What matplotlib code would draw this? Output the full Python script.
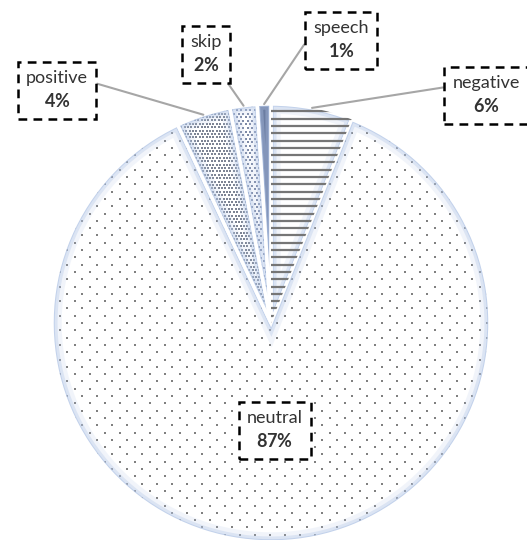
import matplotlib.pyplot as plt
from matplotlib.patches import Wedge
import numpy as np

# -----------------------------
# data
# -----------------------------
labels = ["negative", "neutral", "positive", "skip", "speech"]
shares = [6, 87, 4, 2, 1]

# fill texture per slice: (kind, x step, y step, colour, mark size)
textures = {
    "negative": ("lines", None, 7.3, "#767676", 1.6),
    "neutral": ("dots", 15.0, 7.3, "#808080", 3.0),
    "positive": ("dots", 3.4, 3.4, "#7d8494", 1.6),
    "skip": ("dots", 4.5, 3.6, "#7e8aa6", 1.4),
    "speech": ("solid", None, None, "#5b6d94", None),
}

# label box centres (pixels, origin top-left) and where the leader leaves the box
box_pos = {
    "negative": (486, 95, (0.0, 0.72)),
    "neutral": (275, 430, None),
    "positive": (57, 90, (1.0, 0.72)),
    "skip": (206, 54, (1.0, 0.0)),
    "speech": (341, 40, (0.0, 0.72)),
}

W, H = 527, 540
plt.rcParams['font.family'] = ['Lato', 'DejaVu Sans']
plt.rcParams['mathtext.fontset'] = 'custom'
plt.rcParams['mathtext.bf'] = 'Lato:bold'
plt.rcParams['mathtext.rm'] = 'Lato'

fig = plt.figure(figsize=(W / 100, H / 100), dpi=100)
ax = fig.add_axes([0, 0, 1, 1])

cx, cy, R = 271, H - 323, 219

wedges, _ = ax.pie(shares, startangle=90, counterclock=False,
                   center=(cx, cy), radius=R, frame=True,
                   wedgeprops=dict(linewidth=0, facecolor='white'))
ax.set_xlim(0, W)
ax.set_ylim(0, H)
ax.set_aspect('equal')
ax.axis('off')


def fill_texture(w, kind, sx, sy, color, size):
    if kind == "solid":
        w.set_facecolor(color)
        return
    if kind == "lines":
        ys = np.arange(cy - R, cy + R, sy)
        coll = ax.hlines(ys, cx - R, cx + R, colors=color, linewidth=size)
    else:
        rows = np.arange(cy - R, cy + R, sy)
        pts = []
        for i, yy in enumerate(rows):
            off = sx / 2 if i % 2 else 0.0
            for xx in np.arange(cx - R + off, cx + R, sx):
                pts.append((xx, yy))
        pts = np.array(pts)
        coll = ax.scatter(pts[:, 0], pts[:, 1], s=size, marker='s',
                          c=color, linewidths=0)
    coll.set_clip_path(w)


for w, lab in zip(wedges, labels):
    fill_texture(w, *textures[lab])
    # soft blue rim inside every slice
    for lw, alpha in [(14, 0.18), (8, 0.35), (4, 0.6)]:
        rim = Wedge(w.center, w.r, w.theta1, w.theta2, facecolor='none',
                    edgecolor='#b4c7e7', linewidth=lw, alpha=alpha)
        ax.add_patch(rim)
        rim.set_clip_path(w)
    border = Wedge(w.center, w.r, w.theta1, w.theta2, facecolor='none',
                   edgecolor='white', linewidth=2.5)
    ax.add_patch(border)

# -----------------------------
# labels with dashed boxes
# -----------------------------
for w, lab, val in zip(wedges, labels, shares):
    bx, by, rel = box_pos[lab]
    by = H - by
    txt = f"{lab}\n$\\mathbf{{{val}\\%}}$"
    box = dict(boxstyle='square,pad=0.45', fc='white', ec='black',
               ls=(0, (3.5, 2.5)), lw=1.8)
    if rel is None:
        ax.text(bx, by, txt, ha='center', va='center', fontsize=13,
                color='#333333', linespacing=1.45, bbox=box, zorder=5)
        continue
    mid = np.deg2rad((w.theta1 + w.theta2) / 2)
    px, py = cx + R * np.cos(mid), cy + R * np.sin(mid)
    ax.annotate(txt, xy=(px, py), xytext=(bx, by), ha='center', va='center',
                fontsize=13, color='#333333', linespacing=1.45, bbox=box,
                zorder=5,
                arrowprops=dict(arrowstyle='-', color='#a6a6a6', lw=1.5,
                                shrinkA=0, shrinkB=0, relpos=rel))

plt.savefig('out.png', dpi=100)
plt.close()
